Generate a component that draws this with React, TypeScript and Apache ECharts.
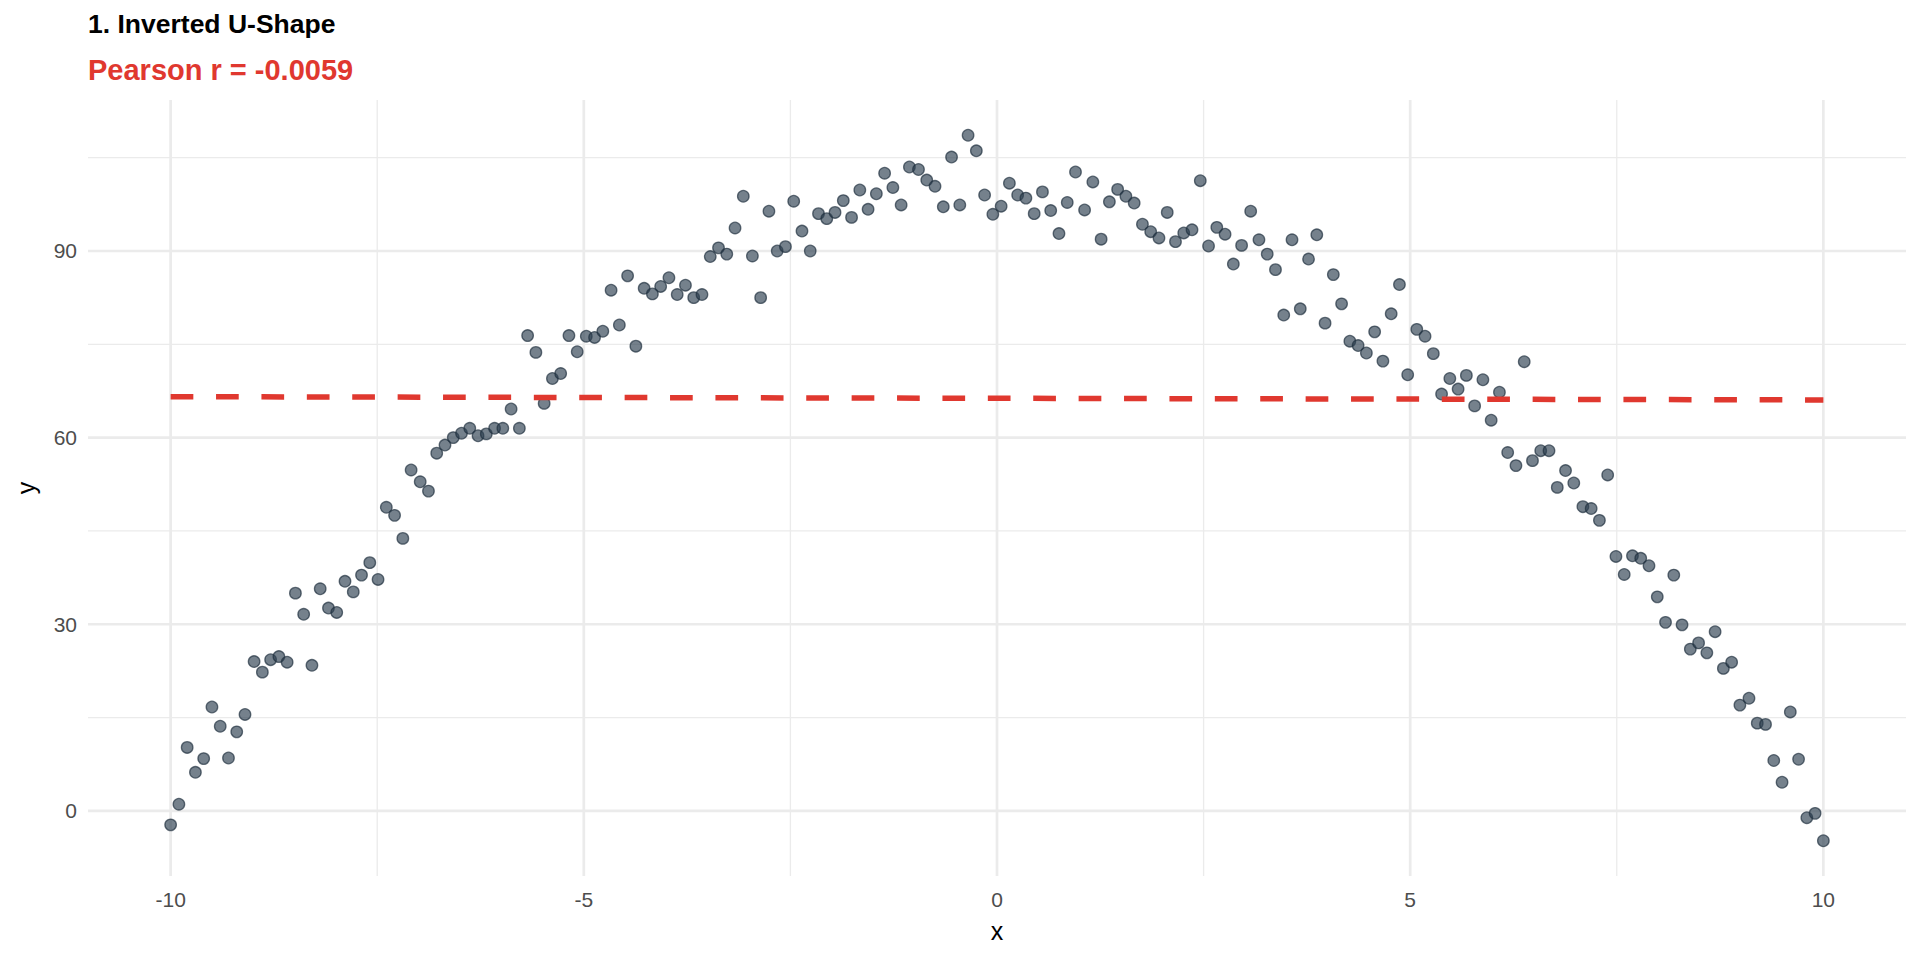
import React, { useEffect, useRef } from "react";
import * as echarts from "echarts";

const xValues = [
  -10.0, -9.9, -9.8, -9.7, -9.6, -9.5, -9.4, -9.3, -9.2, -9.1,
  -8.99, -8.89, -8.79, -8.69, -8.59, -8.49, -8.39, -8.29, -8.19, -8.09,
  -7.99, -7.89, -7.79, -7.69, -7.59, -7.49, -7.39, -7.29, -7.19, -7.09,
  -6.98, -6.88, -6.78, -6.68, -6.58, -6.48, -6.38, -6.28, -6.18, -6.08,
  -5.98, -5.88, -5.78, -5.68, -5.58, -5.48, -5.38, -5.28, -5.18, -5.08,
  -4.97, -4.87, -4.77, -4.67, -4.57, -4.47, -4.37, -4.27, -4.17, -4.07,
  -3.97, -3.87, -3.77, -3.67, -3.57, -3.47, -3.37, -3.27, -3.17, -3.07,
  -2.96, -2.86, -2.76, -2.66, -2.56, -2.46, -2.36, -2.26, -2.16, -2.06,
  -1.96, -1.86, -1.76, -1.66, -1.56, -1.46, -1.36, -1.26, -1.16, -1.06,
  -0.95, -0.85, -0.75, -0.65, -0.55, -0.45, -0.35, -0.25, -0.15, -0.05,
  0.05, 0.15, 0.25, 0.35, 0.45, 0.55, 0.65, 0.75, 0.85, 0.95,
  1.06, 1.16, 1.26, 1.36, 1.46, 1.56, 1.66, 1.76, 1.86, 1.96,
  2.06, 2.16, 2.26, 2.36, 2.46, 2.56, 2.66, 2.76, 2.86, 2.96,
  3.07, 3.17, 3.27, 3.37, 3.47, 3.57, 3.67, 3.77, 3.87, 3.97,
  4.07, 4.17, 4.27, 4.37, 4.47, 4.57, 4.67, 4.77, 4.87, 4.97,
  5.08, 5.18, 5.28, 5.38, 5.48, 5.58, 5.68, 5.78, 5.88, 5.98,
  6.08, 6.18, 6.28, 6.38, 6.48, 6.58, 6.68, 6.78, 6.88, 6.98,
  7.09, 7.19, 7.29, 7.39, 7.49, 7.59, 7.69, 7.79, 7.89, 7.99,
  8.09, 8.19, 8.29, 8.39, 8.49, 8.59, 8.69, 8.79, 8.89, 8.99,
  9.1, 9.2, 9.3, 9.4, 9.5, 9.6, 9.7, 9.8, 9.9, 10.0,
];

const yValues = [
  -2.25, 1.07, 10.2, 6.2, 8.4, 16.7, 13.6, 8.5, 12.7, 15.5,
  24.0, 22.3, 24.3, 24.8, 23.9, 35.0, 31.6, 23.4, 35.7, 32.6,
  31.9, 36.9, 35.2, 37.9, 39.9, 37.2, 48.8, 47.5, 43.8, 54.8,
  52.9, 51.4, 57.5, 58.8,
  60.0, 60.7, 61.5, 60.3, 60.6, 61.5, 61.5, 64.6, 61.5, 76.4,
  73.7, 65.5, 69.5, 70.3, 76.4, 73.8, 76.3, 76.1, 77.1, 83.7,
  78.1, 86.0, 74.7, 84.0, 83.1, 84.3, 85.7, 83.0, 84.5, 82.5,
  83.0, 89.1, 90.5, 89.5,
  93.7, 98.8, 89.2, 82.5, 96.4, 90.0, 90.7, 98.0, 93.2, 90.0,
  96.0, 95.2, 96.2, 98.1, 95.4, 99.8, 96.7, 99.2, 102.5, 100.2,
  97.4, 103.5, 103.1, 101.4, 100.4, 97.1, 105.1, 97.4, 108.6, 106.1,
  99.0, 95.9, 97.2, 100.9,
  99.0, 98.5, 96.0, 99.5, 96.5, 92.8, 97.8, 102.7, 96.6, 101.1,
  91.9, 97.9, 99.9, 98.8, 97.7, 94.3, 93.1, 92.1, 96.2, 91.5,
  92.9, 93.4, 101.3, 90.8, 93.8, 92.7, 87.9, 90.9, 96.4, 91.8,
  89.5, 87.0, 79.7, 91.8,
  80.7, 88.7, 92.6, 78.4, 86.2, 81.5, 75.5, 74.8, 73.6, 77.0,
  72.3, 79.9, 84.6, 70.1, 77.4, 76.3, 73.5, 67.0, 69.5, 67.8,
  70.0, 65.1, 69.3, 62.8, 67.3, 57.6, 55.5, 72.2, 56.3, 57.9,
  57.9, 52.0, 54.7,
  52.7, 48.9, 48.6, 46.7, 54.0, 40.9, 38.0, 41.0, 40.6, 39.4,
  34.4, 30.3, 37.9, 29.9, 26.0, 27.0, 25.4, 28.8, 22.9, 23.9,
  17.0, 18.1, 14.1, 13.9, 8.1, 4.6, 15.9, 8.3, -1.1, -0.4,
  -4.8,
];

// fitted (lm) line at its two ends
const fitX = [-10, 10];
const fitY = [66.58, 66.06];

const xMajorTicks = [-10, -5, 0, 5, 10];
const xMinorTicks = [-7.5, -2.5, 2.5, 7.5];
const yMajorTicks = [0, 30, 60, 90];
const yMinorTicks = [15, 45, 75, 105];

const xRange = [-11, 11];
const yRange = [-10.47, 114.27];

const titleText = "1. Inverted U-Shape";
const subtitleText = "Pearson r = -0.0059";

const FONT = "'Liberation Sans', Arial, Helvetica, sans-serif";

export default function App() {
  const ref = useRef<HTMLDivElement>(null);

  useEffect(() => {
    if (!ref.current) return;
    const chart = echarts.init(ref.current, undefined, { renderer: "svg" });

    const points = xValues.map((x, i) => [x, yValues[i]]);

    const gridSeries: any[] = [];
    const hLine = (v: number, w: number) => ({
      type: "line",
      data: [
        [xRange[0], v],
        [xRange[1], v],
      ],
      symbol: "none",
      silent: true,
      z: 1,
      lineStyle: { color: "#ebebeb", width: w },
    });
    const vLine = (v: number, w: number) => ({
      type: "line",
      data: [
        [v, yRange[0]],
        [v, yRange[1]],
      ],
      symbol: "none",
      silent: true,
      z: 1,
      lineStyle: { color: "#ebebeb", width: w },
    });
    yMinorTicks.forEach((v) => gridSeries.push(hLine(v, 1.3)));
    xMinorTicks.forEach((v) => gridSeries.push(vLine(v, 1.3)));
    yMajorTicks.forEach((v) => gridSeries.push(hLine(v, 2.7)));
    xMajorTicks.forEach((v) => gridSeries.push(vLine(v, 2.7)));

    const option: any = {
      animation: false,
      backgroundColor: "#ffffff",
      textStyle: { fontFamily: FONT },
      grid: { left: 88, right: 14, top: 100, bottom: 84, containLabel: false },
      xAxis: {
        type: "value",
        min: xRange[0],
        max: xRange[1],
        axisLine: { show: false },
        axisTick: { show: false, customValues: xMajorTicks },
        splitLine: { show: false },
        axisLabel: {
          customValues: xMajorTicks,
          color: "#4d4d4d",
          fontSize: 21,
          fontFamily: FONT,
          margin: 13,
          formatter: (v: number) => String(v),
        },
      },
      yAxis: {
        type: "value",
        min: yRange[0],
        max: yRange[1],
        axisLine: { show: false },
        axisTick: { show: false, customValues: yMajorTicks },
        splitLine: { show: false },
        axisLabel: {
          customValues: yMajorTicks,
          color: "#4d4d4d",
          fontSize: 21,
          fontFamily: FONT,
          margin: 11,
          formatter: (v: number) => String(v),
        },
      },
      series: [
        ...gridSeries,
        {
          type: "scatter",
          data: points,
          symbol: "circle",
          symbolSize: 11.5,
          z: 3,
          itemStyle: {
            color: "rgba(44,62,80,0.82)",
            borderColor: "rgba(30,45,60,0.85)",
            borderWidth: 1.3,
          },
        },
        {
          type: "line",
          data: fitX.map((x, i) => [x, fitY[i]]),
          symbol: "none",
          silent: true,
          z: 4,
          lineStyle: { color: "#e0382f", width: 5.5, type: [22.7, 22.7] },
        },
      ],
      graphic: [
        {
          type: "text",
          left: 88,
          top: 10,
          style: {
            text: titleText,
            font: `bold 26.5px ${FONT}`,
            fill: "#000000",
          },
        },
        {
          type: "text",
          left: 88,
          top: 55,
          style: {
            text: subtitleText,
            font: `bold 29px ${FONT}`,
            fill: "#e0382f",
          },
        },
        {
          type: "text",
          x: 997,
          y: 931,
          style: {
            text: "x",
            font: `25px ${FONT}`,
            fill: "#000000",
            textAlign: "center",
            textVerticalAlign: "middle",
            align: "center",
            verticalAlign: "middle",
          },
        },
        {
          type: "text",
          x: 26,
          y: 488,
          rotation: Math.PI / 2,
          style: {
            text: "y",
            font: `25px ${FONT}`,
            fill: "#000000",
            textAlign: "center",
            textVerticalAlign: "middle",
            align: "center",
            verticalAlign: "middle",
          },
        },
      ],
    };

    chart.setOption(option);
    return () => chart.dispose();
  }, []);

  return (
    <div
      ref={ref}
      style={{
        position: "fixed",
        left: 0,
        top: 0,
        width: 1920,
        height: 960,
        background: "#ffffff",
      }}
    />
  );
}
